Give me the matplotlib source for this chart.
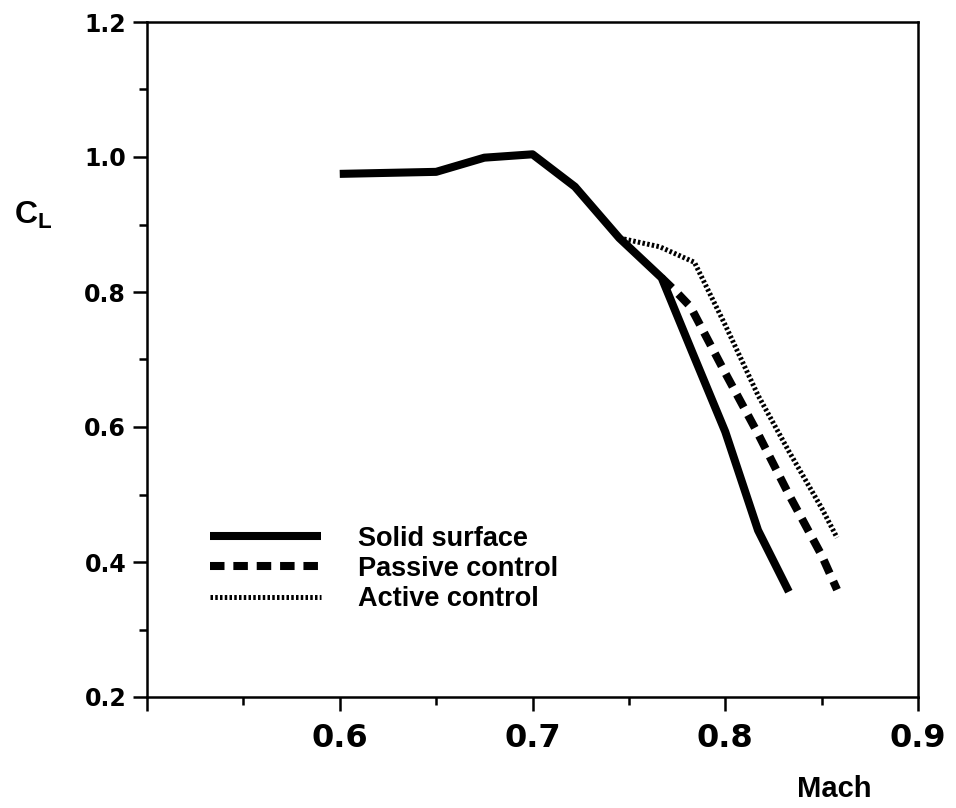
import matplotlib
matplotlib.use("Agg")
import matplotlib.pyplot as plt
from matplotlib.ticker import MultipleLocator, FixedLocator

# Data
solid_mach = [0.600, 0.650, 0.675, 0.700, 0.722, 0.745, 0.767, 0.783, 0.800, 0.817, 0.833]
solid_cl   = [0.975, 0.978, 0.999, 1.004, 0.956, 0.880, 0.821, 0.710, 0.593, 0.447, 0.356]

passive_mach = [0.767, 0.775, 0.782, 0.800, 0.817, 0.833, 0.850, 0.858]
passive_cl   = [0.821, 0.799, 0.778, 0.680, 0.590, 0.500, 0.410, 0.359]

active_mach = [0.745, 0.766, 0.784, 0.800, 0.817, 0.833, 0.850, 0.858]
active_cl   = [0.880, 0.867, 0.844, 0.751, 0.647, 0.564, 0.480, 0.436]

x_ticks = [0.6, 0.7, 0.8, 0.9]
x_ticklabels = ["0.6", "0.7", "0.8", "0.9"]
y_ticks = [0.2, 0.4, 0.6, 0.8, 1.0, 1.2]
y_ticklabels = ["0.2", "0.4", "0.6", "0.8", "1.0", "1.2"]
labels = ["Solid surface", "Passive control", "Active control"]

plt.rcParams['font.family'] = ['Liberation Sans', 'DejaVu Sans']

fig = plt.figure(figsize=(9.56, 8.08), dpi=100)
ax = fig.add_axes([147/956, 1 - 697/808, (918 - 147)/956, (697 - 22)/808])

ax.plot(solid_mach, solid_cl, color='black', lw=5.8, solid_joinstyle='round',
        solid_capstyle='butt', label=labels[0])
ax.plot(passive_mach, passive_cl, color='black', lw=5.8, linestyle=(0, (1.8, 1.1)),
        dash_capstyle='butt', label=labels[1])
ax.plot(active_mach, active_cl, color='black', lw=3.6, linestyle=(0, (0.5, 0.45)),
        dash_capstyle='butt', label=labels[2])

ax.set_xlim(0.5, 0.9)
ax.set_ylim(0.2, 1.2)

ax.xaxis.set_major_locator(FixedLocator([0.5, 0.6, 0.7, 0.8, 0.9]))
ax.set_xticklabels([""] + x_ticklabels)
ax.xaxis.set_minor_locator(MultipleLocator(0.05))
ax.set_yticks(y_ticks)
ax.set_yticklabels(y_ticklabels)
ax.yaxis.set_minor_locator(MultipleLocator(0.1))

ax.tick_params(axis='x', which='major', direction='out', length=10, width=1.8, pad=9)
ax.tick_params(axis='x', which='minor', direction='out', length=6, width=1.8)
ax.tick_params(axis='y', which='major', direction='out', length=10, width=1.8, pad=5)
ax.tick_params(axis='y', which='minor', direction='out', length=6, width=1.8)

for lab in ax.get_xticklabels():
    lab.set_fontsize(23)
    lab.set_fontweight('bold')
    lab.set_fontfamily(['DejaVu Sans'])
for lab in ax.get_yticklabels():
    lab.set_fontsize(17)
    lab.set_fontweight('bold')
    lab.set_fontfamily(['DejaVu Sans'])

for s in ax.spines.values():
    s.set_linewidth(1.8)

ax.set_xlabel("Mach", fontsize=21, fontweight='bold')
ax.xaxis.set_label_coords(0.892, -0.115)
ax.xaxis.label.set_va('top')

ax.set_ylabel(r"C$_{\mathregular{L}}$", fontsize=23, fontweight='bold', rotation=0)
ax.yaxis.set_label_coords(-0.148, 0.69)

leg = ax.legend(loc='upper left', bbox_to_anchor=(0.05, 0.29), frameon=False,
                handlelength=4.1, handletextpad=1.35, labelspacing=0.16,
                prop={'family': 'Liberation Sans', 'weight': 'bold', 'size': 19.5})

fig.savefig("out.png", dpi=100)
